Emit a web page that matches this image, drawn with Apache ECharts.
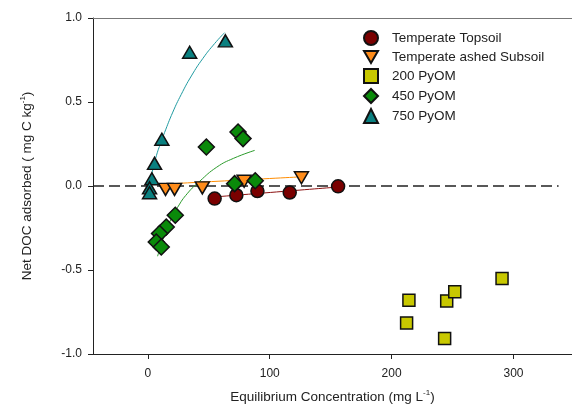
<!DOCTYPE html>
<html>
<head>
<meta charset="utf-8">
<script src="https://cdn.jsdelivr.net/npm/echarts@6/dist/echarts.min.js"></script>
<style>
    html, body { margin: 0; padding: 0; background: #fff; }
    #js-main { width: 572px; height: 411px; }
</style>
</head>
<body>
<div id="js-main"></div>
<script>
// 数据点 [平衡浓度, 净吸附量]
var topsoil = [[54.8, -0.075], [72.6, -0.055], [89.9, -0.030], [116.4, -0.039], [156.1, -0.002]];
var ashedSubsoil = [[14.5, -0.020], [21.9, -0.020], [44.7, -0.011], [79.0, 0.028], [126.0, 0.049]];
var pyom200 = [[214.2, -0.680], [212.3, -0.815], [245.2, -0.684], [251.8, -0.629], [243.5, -0.908], [290.6, -0.551]];
var pyom450 = [[48.0, 0.232], [74.0, 0.321], [78.1, 0.282], [71.2, 0.014], [88.1, 0.031],
    [22.5, -0.174], [15.1, -0.244], [9.6, -0.283], [6.9, -0.333], [11.0, -0.363]];
var pyom750 = [[11.5, 0.278], [5.5, 0.135], [3.3, 0.043], [1.4, -0.011], [1.4, -0.040], [34.3, 0.796], [63.6, 0.864]];

// 拟合曲线
var fitTopsoil = [[55, -0.065], [156, -0.006]];
var fitSubsoil = [[10, 0.010], [127, 0.055]];
var fit450 = [[8.0, -0.418], [12.1, -0.323], [17.8, -0.216], [24.4, -0.127], [32.6, -0.043],
    [42.5, 0.028], [56.5, 0.112], [70.4, 0.165], [87.7, 0.212]];
var fit750 = [[0.6, -0.026], [3.0, 0.064], [7.1, 0.183], [11.3, 0.270], [13.7, 0.318], [20.5, 0.440],
    [27.4, 0.545], [35.7, 0.655], [45.2, 0.760], [54.8, 0.848], [63.0, 0.913]];
var zeroLine = [[-45, 0], [337, 0]];

var xTicks = [0, 100, 200, 300];
var seriesNames = ["Temperate Topsoil", "Temperate ashed Subsoil", "200 PyOM", "450 PyOM", "750 PyOM"];

var sorption = {
    init: function () {
        var me = this;
        me.chart = echarts.init(document.getElementById('js-main'));
        me.chart.setOption(me.option());
    },
    curve: function (data, color) {
        return {
            type: "line",
            data: data,
            smooth: 0.5,
            showSymbol: false,
            silent: true,
            lineStyle: { color: color, width: 1 },
            z: 1
        };
    },
    points: function (name, data, symbol, size, color) {
        return {
            name: name,
            type: "scatter",
            data: data,
            symbol: symbol,
            symbolSize: size,
            itemStyle: { color: color, borderColor: "#111", borderWidth: 1.5, opacity: 1 },
            z: 3
        };
    },
    option: function () {
        var me = this;
        var font = "Liberation Sans, Arial, sans-serif";
        var supStyle = { sup: { fontSize: 8, verticalAlign: "top", padding: [0, 0, 8, 0] } };
        return {
            animation: false,
            textStyle: { fontFamily: font, color: "#222" },
            grid: { left: 93, right: 0, top: 18, bottom: 57, outerBoundsMode: "none" },
            legend: {
                data: seriesNames,
                orient: "vertical",
                left: 358,
                top: 25,
                itemWidth: 14,
                itemHeight: 14,
                itemGap: 4,
                textStyle: { fontSize: 13.5, color: "#222", padding: [0, 0, 0, 9] }
            },
            xAxis: [{
                type: "value",
                min: -45,
                max: 348,
                name: "Equilibrium Concentration (mg L{sup|-1})",
                nameLocation: "middle",
                nameGap: 35,
                nameTextStyle: { fontSize: 13.5, color: "#222", rich: supStyle },
                axisLine: { onZero: false, lineStyle: { color: "#222", width: 1 } },
                axisTick: { length: 5, customValues: xTicks, lineStyle: { color: "#222" } },
                axisLabel: { customValues: xTicks, fontSize: 12, color: "#222", margin: 14 },
                splitLine: { show: false }
            }, {
                type: "value",
                position: "top",
                min: -45,
                max: 348,
                axisLine: { show: true, onZero: false, lineStyle: { color: "#777", width: 1.2 } },
                axisTick: { show: false },
                axisLabel: { show: false },
                splitLine: { show: false }
            }],
            yAxis: {
                type: "value",
                min: -1,
                max: 1,
                interval: 0.5,
                name: "Net DOC adsorbed ( mg C kg{sup|-1})",
                nameLocation: "middle",
                nameGap: 58,
                nameTextStyle: { fontSize: 13.5, color: "#222", rich: supStyle },
                axisLine: { show: true, onZero: false, lineStyle: { color: "#222", width: 1 } },
                axisTick: { show: true, length: 5, lineStyle: { color: "#222" } },
                axisLabel: {
                    fontSize: 12, color: "#222", margin: 11,
                    formatter: function (v) { return v.toFixed(1); }
                },
                splitLine: { show: false }
            },
            series: [
                {
                    type: "line",
                    data: zeroLine,
                    showSymbol: false,
                    silent: true,
                    lineStyle: { color: "#222", width: 1.3, type: [11, 5] },
                    z: 0
                },
                me.curve(fit750, "#1f9aa0"),
                me.curve(fit450, "#2a9a2a"),
                me.curve(fitSubsoil, "#ff8c00"),
                me.curve(fitTopsoil, "#8b1010"),
                me.points(seriesNames[0], topsoil, "circle", 13, "#7a0000"),
                me.points(seriesNames[1], ashedSubsoil, "path://M0,0L14,0L7,12Z", [14, 12], "#ff8c1a"),
                me.points(seriesNames[2], pyom200, "rect", 12, "#c8c800"),
                me.points(seriesNames[3], pyom450, "diamond", 16, "#0a8a0a"),
                me.points(seriesNames[4], pyom750, "triangle", [14, 12], "#0a8080")
            ]
        };
    }
};
sorption.init();
</script>
</body>
</html>
